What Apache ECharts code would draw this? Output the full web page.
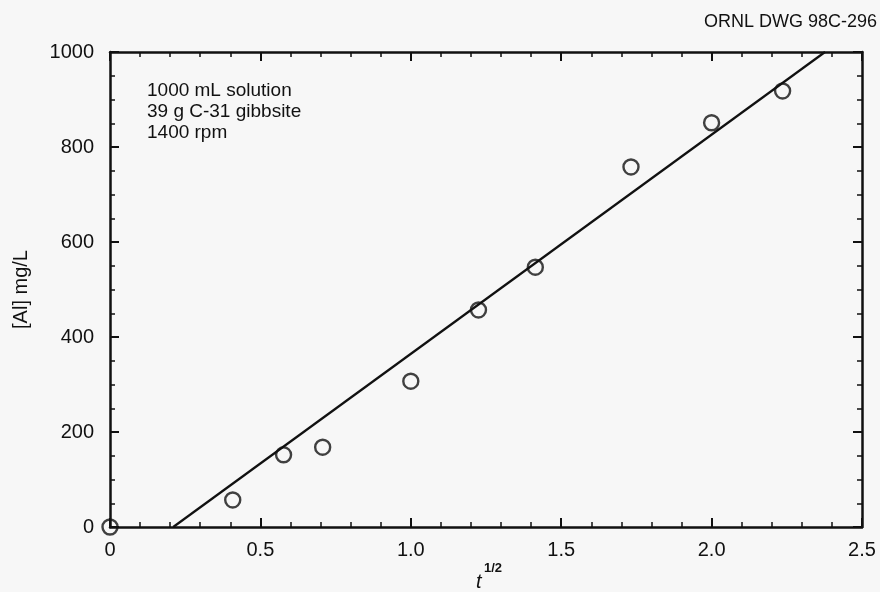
<!DOCTYPE html>
<html>
<head>
<meta charset="utf-8">
<title>[Al] vs t^1/2</title>
<script src="https://cdn.jsdelivr.net/npm/echarts@6/dist/echarts.min.js"></script>
<style>
  html, body { margin: 0; padding: 0; background: #f7f7f7; }
  #chart { width: 880px; height: 592px; }
</style>
</head>
<body>
<div id="chart"></div>
<script>
// Square root of time and measured aluminum concentration
const sqrtTime = [0, 0.408, 0.577, 0.707, 1.0, 1.225, 1.414, 1.732, 2.0, 2.236];
const alConc = [0, 57, 152, 168, 307, 457, 547, 758, 851, 918];

// Linear fit: [Al] = slope * t^1/2 + intercept
const fitSlope = 461.5;
const fitIntercept = -97;

const xTicks = [0, 0.5, 1.0, 1.5, 2.0, 2.5];
const yTicks = [0, 200, 400, 600, 800, 1000];

const notes = ['1000 mL solution', '39 g C-31 gibbsite', '1400 rpm'];
const drawingId = 'ORNL DWG 98C-296';

const X_MIN = xTicks[0], X_MAX = xTicks[xTicks.length - 1];
const Y_MIN = yTicks[0], Y_MAX = yTicks[yTicks.length - 1];

// Fit line spans from where it crosses [Al]=0 to where it reaches the top of the axis
const fitLine = [
  [(Y_MIN - fitIntercept) / fitSlope, Y_MIN],
  [(Y_MAX - fitIntercept) / fitSlope, Y_MAX]
];

const FONT = '"Liberation Sans", Arial, Helvetica, sans-serif';
const INK = '#111';

const tickCommon = { show: true, inside: true, length: 9, lineStyle: { color: INK, width: 2 } };
const minorCommon = { show: true, length: 5, lineStyle: { color: INK, width: 1.5 } };
const lineCommon = { show: true, onZero: false, lineStyle: { color: INK, width: 2.5 } };

const chart = echarts.init(document.getElementById('chart'), null, { renderer: 'canvas' });

chart.setOption({
  backgroundColor: '#f7f7f7',
  animation: false,
  grid: { left: 110, right: 18, top: 52, bottom: 65 },
  xAxis: [
    {
      type: 'value', min: X_MIN, max: X_MAX, interval: 0.5,
      axisLine: lineCommon,
      axisTick: tickCommon,
      minorTick: Object.assign({ splitNumber: 5 }, minorCommon),
      splitLine: { show: false },
      axisLabel: {
        color: INK, fontFamily: FONT, fontSize: 20, margin: 13,
        formatter: v => (v === 0 ? '0' : v.toFixed(1))
      }
    },
    {
      type: 'value', position: 'top', min: X_MIN, max: X_MAX, interval: 0.5,
      axisLine: lineCommon,
      axisTick: tickCommon,
      minorTick: Object.assign({ splitNumber: 5 }, minorCommon),
      splitLine: { show: false },
      axisLabel: { show: false }
    }
  ],
  yAxis: [
    {
      type: 'value', min: Y_MIN, max: Y_MAX, interval: 200,
      name: '[Al] mg/L', nameLocation: 'middle', nameRotate: 90, nameGap: 79,
      nameTextStyle: { color: INK, fontFamily: FONT, fontSize: 20 },
      axisLine: lineCommon,
      axisTick: tickCommon,
      minorTick: Object.assign({ splitNumber: 4 }, minorCommon),
      splitLine: { show: false },
      axisLabel: {
        color: INK, fontFamily: FONT, fontSize: 20, margin: 16,
        formatter: v => String(v)
      }
    },
    {
      type: 'value', position: 'right', min: Y_MIN, max: Y_MAX, interval: 200,
      axisLine: lineCommon,
      axisTick: tickCommon,
      minorTick: Object.assign({ splitNumber: 4 }, minorCommon),
      splitLine: { show: false },
      axisLabel: { show: false }
    }
  ],
  series: [
    {
      type: 'line',
      data: fitLine,
      symbol: 'none',
      lineStyle: { color: INK, width: 2.2 },
      silent: true
    },
    {
      type: 'scatter',
      data: sqrtTime.map((x, i) => [x, alConc[i]]),
      symbol: 'circle',
      symbolSize: 15,
      clip: false,
      itemStyle: { color: 'rgba(0,0,0,0)', borderColor: INK, borderWidth: 2.4 },
      z: 5
    }
  ],
  graphic: [
    {
      type: 'text', left: 147, top: 80,
      style: {
        text: notes.join('\n'),
        font: '19px ' + FONT, fill: INK, lineHeight: 21
      }
    },
    {
      type: 'text', right: 3, top: 13,
      style: { text: drawingId, font: '18px ' + FONT, fill: INK }
    },
    {
      type: 'text', left: 476, top: 572,
      style: { text: 't', font: 'italic 20px ' + FONT, fill: INK }
    },
    {
      type: 'text', left: 484, top: 562,
      style: { text: '1/2', font: 'bold 13px ' + FONT, fill: INK }
    }
  ]
});
</script>
</body>
</html>
